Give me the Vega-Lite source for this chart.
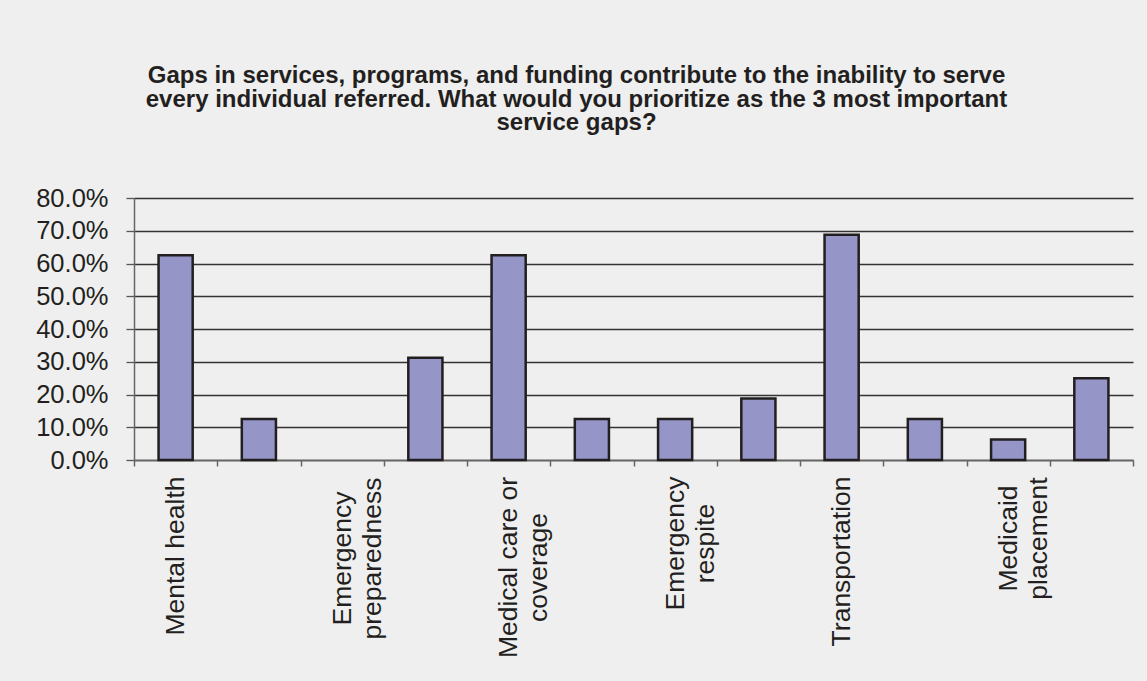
{
  "$schema": "https://vega.github.io/schema/vega-lite/v6.json",
  "width": 999,
  "height": 262,
  "autosize": {"type": "none"},
  "padding": {"left": 134, "top": 198, "right": 14, "bottom": 221},
  "background": "#efefef",
  "title": {
    "text": [
      "Gaps in services, programs, and funding contribute to the inability to serve",
      "every individual referred. What would you prioritize as the 3 most important",
      "service gaps?"
    ],
    "font": "Liberation Sans",
    "fontSize": 24,
    "fontWeight": "bold",
    "color": "#231f20",
    "lineHeight": 23.5,
    "anchor": "middle",
    "dx": -57,
    "offset": 51
  },
  "data": {
    "values": [
      {"category": "Mental health", "share": 0.625},
      {"category": "(unlabeled 2)", "share": 0.125},
      {"category": "Emergency\npreparedness", "share": 0},
      {"category": "(unlabeled 4)", "share": 0.3125},
      {"category": "Medical care or\ncoverage", "share": 0.625},
      {"category": "(unlabeled 6)", "share": 0.125},
      {"category": "Emergency\nrespite", "share": 0.125},
      {"category": "(unlabeled 8)", "share": 0.1875},
      {"category": "Transportation", "share": 0.6875},
      {"category": "(unlabeled 10)", "share": 0.125},
      {"category": "Medicaid\nplacement", "share": 0.0625},
      {"category": "(unlabeled 12)", "share": 0.25}
    ]
  },
  "mark": {
    "type": "bar",
    "fill": "#9595c8",
    "stroke": "#231f20",
    "width": {"band": 0.41}
  },
  "encoding": {
    "x": {
      "field": "category",
      "type": "nominal",
      "sort": null,
      "scale": {"paddingInner": 0, "paddingOuter": 0},
      "axis": {
        "title": null,
        "labelAngle": -90,
        "labelAlign": {
          "condition": {"test": "isString(datum.value) && indexof(datum.value, '\\n') >= 0", "value": "center"},
          "value": "right"
        },
        "labelBaseline": "middle",
        "labelFont": "Liberation Sans",
        "labelFontSize": 26.5,
        "labelColor": "#231f20",
        "labelPadding": {
          "condition": [
            {"test": "datum.value === 'Emergency\\npreparedness'", "value": 92},
            {"test": "datum.value === 'Medical care or\\ncoverage'", "value": 101},
            {"test": "datum.value === 'Emergency\\nrespite'", "value": 77},
            {"test": "datum.value === 'Medicaid\\nplacement'", "value": 72}
          ],
          "value": 10
        },
        "labelLineHeight": 30,
        "labelOverlap": false,
        "labelLimit": 0,
        "labelExpr": "(!isString(datum.value) || test(/^\\(/, datum.value)) ? '' : split(datum.value, '\\n')",
        "tickBand": "extent",
        "tickSize": 6,
        "tickColor": "#666666",
        "tickWidth": 1.5,
        "domainColor": "#666666",
        "domainWidth": 1.5
      }
    },
    "y": {
      "field": "share",
      "type": "quantitative",
      "scale": {"domain": [0, 0.8], "nice": false},
      "axis": {
        "title": null,
        "format": ".1%",
        "values": [0, 0.1, 0.2, 0.3, 0.4, 0.5, 0.6, 0.7, 0.8],
        "grid": true,
        "gridColor": "#333333",
        "gridWidth": 1.3,
        "tickSize": 8,
        "tickColor": "#555555",
        "tickWidth": 1.3,
        "domainColor": "#666666",
        "domainWidth": 1.5,
        "labelFont": "Liberation Sans",
        "labelFontSize": 25.5,
        "labelColor": "#231f20",
        "labelPadding": 18
      }
    },
    "strokeWidth": {
      "condition": {"test": "datum.share === 0", "value": 0},
      "value": 2.5
    }
  },
  "config": {"view": {"stroke": null}}
}
